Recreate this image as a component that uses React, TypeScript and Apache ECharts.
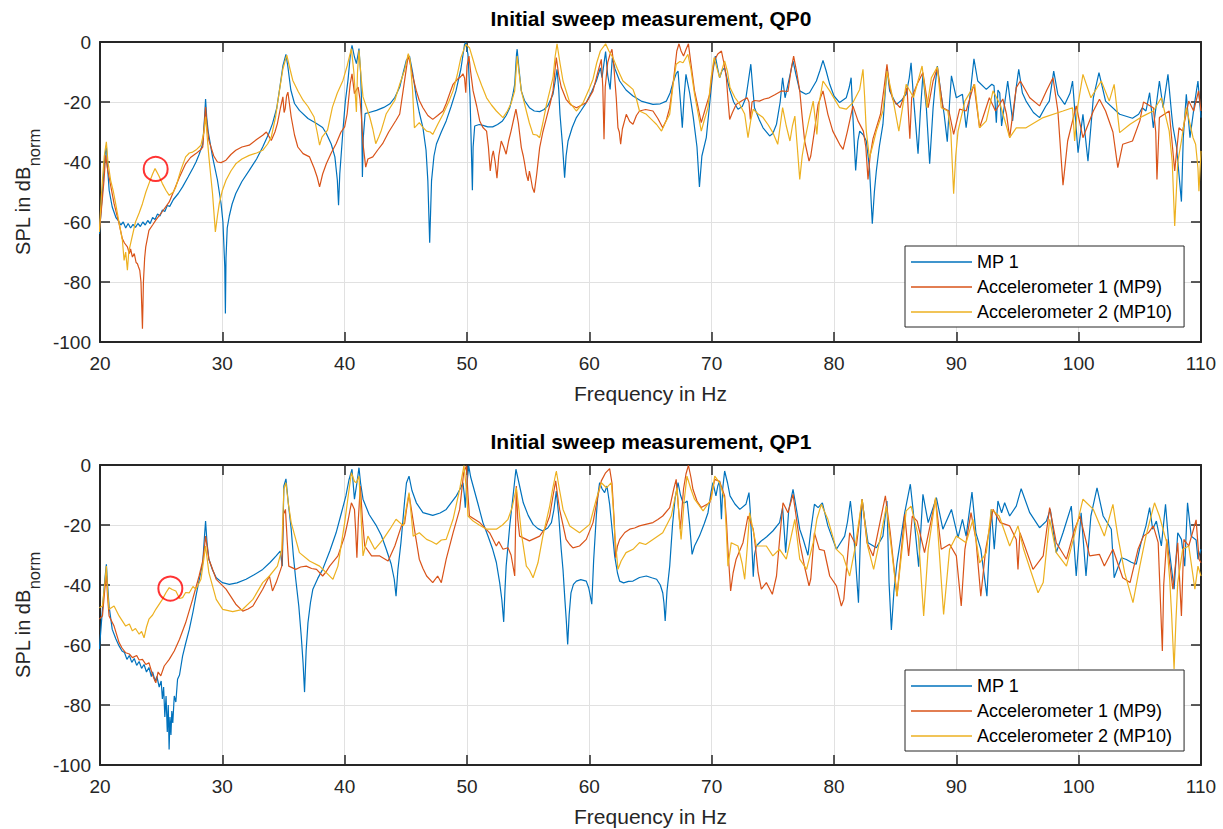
import React, { useEffect, useRef } from "react";
import * as echarts from "echarts";

// ---------- data (frequency in Hz, SPL in dB_norm) ----------
const seriesNames = ["MP 1", "Accelerometer 1 (MP9)", "Accelerometer 2 (MP10)"];
const seriesColors = ["#0072BD", "#D95319", "#EDB120"];
const titles = ["Initial sweep measurement, QP0", "Initial sweep measurement, QP1"];
const xMin = 20, xMax = 110, xStep = 10;
const yMin = -100, yMax = 0, yStep = 20;

const qp0MP1: number[][] = [[19.95,-64],[20.2,-50],[20.4,-38],[20.52,-34.5],[20.62,-42],[20.75,-49.5],[21.0,-55],[21.3,-58.5],[21.5,-59.5],[21.7,-61],[21.9,-60],[22.1,-62],[22.3,-60.5],[22.5,-62],[22.7,-60.8],[22.9,-61.8],[23.1,-60.5],[23.3,-61.5],[23.5,-60],[23.7,-61],[23.9,-59.5],[24.1,-60.5],[24.3,-58.5],[24.5,-59.2],[24.7,-57.3],[24.9,-58],[25.1,-56],[25.3,-56.5],[25.5,-54.5],[25.7,-54.8],[26.0,-52.5],[26.4,-50.5],[26.75,-48.3],[27.2,-45],[27.6,-42],[27.85,-40],[28.1,-37.5],[28.4,-34],[28.55,-25],[28.63,-19],[28.72,-25],[28.85,-30],[29.2,-38.3],[29.6,-46],[29.9,-54],[30.05,-60],[30.2,-75],[30.25,-90.5],[30.3,-72],[30.4,-62],[30.57,-58],[30.8,-54],[31.1,-50.5],[31.6,-46.5],[32.2,-42.8],[32.8,-39],[33.3,-35],[33.8,-30.5],[34.1,-27.2],[34.45,-22],[34.67,-16],[34.95,-8],[35.2,-4.1],[35.35,-8],[35.6,-16],[35.9,-20.5],[36.3,-22.8],[37.0,-25.5],[37.7,-27.2],[38.2,-28.5],[38.5,-30.5],[38.9,-34],[39.2,-38.3],[39.4,-46],[39.5,-54.4],[39.6,-44],[39.86,-29.4],[40.05,-20],[40.27,-12.8],[40.45,-5],[40.6,-1.1],[40.8,-5],[40.96,-7.2],[41.1,-4],[41.17,-2.2],[41.3,-10],[41.37,-18.3],[41.45,-45],[41.52,-32],[41.67,-23.9],[42.0,-23.5],[42.6,-22.8],[43.2,-21.8],[43.7,-20.6],[44.1,-18.5],[44.5,-15],[44.8,-10],[45.05,-6],[45.3,-4.7],[45.55,-10],[45.86,-18.6],[46.1,-23.5],[46.4,-28.6],[46.65,-36],[46.8,-46.3],[46.95,-66.9],[47.1,-46.3],[47.3,-38],[47.5,-34],[47.9,-30],[48.3,-26.3],[48.7,-21.5],[49.1,-16.3],[49.5,-9],[49.8,-0.8],[49.9,-0.2],[50.08,-4.1],[50.25,-18.6],[50.44,-49.4],[50.5,-35],[50.63,-28],[51.0,-27.5],[51.3,-27.8],[51.7,-28.3],[52.1,-28.3],[52.5,-27.5],[52.9,-26.3],[53.2,-24.5],[53.5,-21.9],[53.75,-17.5],[53.9,-14.1],[54.05,-4],[54.1,-2.4],[54.25,-9],[54.44,-16.3],[54.7,-19.5],[55.1,-21.9],[55.5,-23],[55.94,-23.2],[56.3,-22.5],[56.6,-21.3],[57.03,-17.4],[57.25,-12],[57.36,-9.1],[57.5,-16],[57.6,-24.1],[57.8,-34],[57.98,-45.2],[58.1,-38],[58.26,-33],[58.6,-28.5],[58.94,-25.2],[59.3,-23],[59.75,-20.2],[60.2,-16.5],[60.57,-13],[60.8,-10],[60.9,-8.6],[61.04,-11.9],[61.2,-7],[61.33,-3.2],[61.5,-11],[61.7,-15.8],[61.88,-5.2],[62.1,-9],[62.48,-13],[63.0,-16],[63.57,-18],[64.3,-19.8],[65.2,-20.8],[65.8,-20.6],[66.3,-19.7],[66.6,-17],[66.8,-14.1],[67.1,-10.5],[67.25,-9.7],[67.45,-20],[67.6,-28.6],[67.75,-18],[67.9,-10.8],[68.2,-17],[68.5,-25.2],[68.8,-35],[69.0,-48.3],[69.2,-38],[69.56,-31.9],[69.85,-20],[70.1,-9.7],[70.3,-4.7],[70.5,-9],[70.65,-11.9],[70.85,-9.5],[71.06,-8.6],[71.3,-13],[71.5,-16.3],[71.8,-20],[72.15,-22.4],[72.5,-21.5],[72.8,-18.6],[73.0,-13],[73.2,-7.4],[73.35,-15],[73.5,-21.9],[73.9,-26],[74.2,-28.6],[74.74,-31.3],[75.0,-30.5],[75.3,-27.4],[75.6,-20],[75.8,-11.9],[76.0,-18.6],[76.3,-13],[76.65,-6.3],[76.9,-11],[77.2,-16.3],[77.7,-17.4],[78.0,-16.9],[78.56,-13],[78.85,-9.5],[79.1,-6.1],[79.35,-9.5],[79.65,-14.1],[80.0,-18],[80.46,-20.2],[81.0,-18.6],[81.25,-15],[81.4,-11.9],[81.55,-25.2],[81.77,-42.8],[81.95,-33],[82.1,-29.7],[82.4,-31],[82.64,-33],[82.9,-42],[83.13,-60.6],[83.3,-50],[83.46,-43],[83.7,-35],[84.0,-27.4],[84.2,-16],[84.33,-8.6],[84.55,-16.3],[85.1,-20.8],[85.5,-19.5],[85.9,-17.4],[86.15,-12],[86.3,-6.9],[86.5,-18.6],[86.87,-37.2],[87.05,-24],[87.27,-10.8],[87.55,-22],[87.82,-40.6],[88.1,-22],[88.25,-15.2],[88.45,-8],[88.75,-17.4],[89.0,-24],[89.26,-33.2],[89.45,-20],[89.6,-11.3],[90.0,-18.6],[90.5,-17.4],[90.8,-28.6],[91.1,-18.6],[91.44,-5.6],[91.75,-13],[92.45,-15.8],[92.9,-14.1],[93.08,-14.6],[93.27,-26.9],[93.4,-16],[93.55,-17],[93.7,-28],[94.2,-13],[94.6,-26.3],[94.9,-15],[95.1,-9.1],[95.4,-17],[95.7,-19.7],[96.3,-23.5],[96.8,-25.2],[97.3,-21.5],[97.6,-19.7],[97.96,-9.7],[98.3,-17.5],[98.86,-20.8],[99.3,-17],[99.5,-13],[99.75,-26.3],[99.95,-36.9],[100.35,-24.1],[100.76,-39.7],[101.2,-18.6],[101.66,-10.2],[102.2,-19.7],[103.35,-24.1],[104.4,-25.4],[104.9,-24.1],[105.2,-21.9],[105.5,-23],[105.8,-16.9],[106.1,-28.6],[106.6,-13],[106.9,-21.9],[107.3,-10.8],[107.6,-24.1],[107.7,-28],[108.0,-35],[108.4,-53.2],[108.55,-32],[108.8,-17.4],[109.1,-31.9],[109.5,-19.7],[109.75,-13],[110.0,-25.2]];

const qp0Acc1: number[][] = [[19.95,-63],[20.2,-52],[20.33,-46],[20.46,-37.8],[20.6,-42],[20.74,-45],[21.15,-53.9],[21.56,-60.6],[21.83,-65.6],[22.0,-67],[22.24,-68.3],[22.4,-70.5],[22.5,-69],[22.65,-71.7],[22.8,-70.5],[22.95,-73.5],[23.06,-73.9],[23.15,-75],[23.25,-76.1],[23.35,-80],[23.47,-95.6],[23.55,-80],[23.65,-72],[23.74,-68.3],[24.0,-62.8],[24.3,-61],[24.56,-59.4],[25.1,-56.5],[25.66,-53.3],[26.1,-49],[26.5,-45],[27.0,-40.6],[27.4,-38.5],[27.84,-37.2],[28.2,-36],[28.4,-35],[28.52,-28],[28.63,-21.7],[28.75,-28],[28.9,-32.8],[29.3,-38],[29.6,-40],[29.9,-40.2],[30.3,-39.4],[30.7,-37.5],[31.1,-36.1],[31.6,-35],[32.2,-34.4],[32.8,-32.5],[33.3,-31.1],[33.6,-30],[34.0,-32.8],[34.3,-30],[34.5,-27.2],[34.75,-22],[34.95,-18.3],[35.05,-23.5],[35.14,-22.2],[35.25,-18],[35.36,-16.7],[35.5,-21],[35.63,-25],[35.9,-31],[36.17,-35],[36.6,-37.2],[37.13,-38.3],[37.5,-42],[37.75,-45],[37.95,-48.3],[38.2,-44],[38.5,-40.6],[38.9,-37],[39.3,-33.9],[39.7,-30],[40.0,-28.3],[40.2,-24],[40.45,-14],[40.6,-10.6],[40.8,-17.2],[40.95,-16],[41.1,-15],[41.25,-19],[41.37,-25],[41.5,-33.9],[41.72,-41.7],[41.9,-39],[42.3,-38.3],[42.7,-36],[43.1,-33.9],[43.6,-30],[44.2,-26.1],[44.5,-24],[44.9,-12.8],[45.2,-4.4],[45.4,-8],[45.6,-12],[45.86,-16.3],[46.1,-19.5],[46.4,-21.9],[46.8,-24.5],[47.2,-25.8],[47.6,-24.5],[48.04,-23],[48.3,-20.5],[48.6,-17],[48.86,-14.1],[49.2,-12.5],[49.5,-11.5],[49.67,-10.6],[49.8,-12],[49.9,-16.9],[50.0,-8],[50.16,-4.7],[50.3,-10],[50.5,-16.3],[50.8,-21.5],[51.04,-26.3],[51.3,-28.5],[51.6,-29.7],[51.75,-35],[51.9,-43],[52.05,-38],[52.15,-36.3],[52.3,-40],[52.45,-45.4],[52.6,-38],[52.8,-33],[53.0,-35],[53.2,-37.4],[53.4,-33],[53.6,-29.7],[53.8,-26],[54.0,-22.4],[54.2,-27],[54.44,-35.2],[54.6,-38],[54.7,-40.2],[54.85,-44],[55.0,-46.3],[55.1,-43],[55.2,-45],[55.35,-48.5],[55.5,-50.2],[55.7,-44],[55.94,-35.2],[56.2,-30],[56.5,-25.2],[56.8,-20.5],[57.03,-16.3],[57.2,-9],[57.3,-5.2],[57.5,-11],[57.7,-15],[58.1,-19.1],[58.5,-21],[58.94,-21.9],[59.4,-21],[59.75,-20.2],[60.0,-18.5],[60.3,-16.3],[60.7,-10],[60.98,-5.8],[61.1,-15],[61.2,-32.4],[61.3,-15],[61.5,-6.9],[61.7,-4],[61.85,-2.4],[62.0,-8],[62.2,-18.6],[62.34,-28.6],[62.45,-30],[62.56,-34.1],[62.7,-29],[63.02,-24.1],[63.3,-26.5],[63.57,-27.4],[63.85,-24.5],[64.1,-23],[64.6,-22.5],[65.2,-23],[65.6,-25.5],[66.0,-28.6],[66.3,-26],[66.57,-21.9],[66.9,-12],[67.15,-3],[67.33,-0.6],[67.5,-3],[67.7,-4.7],[67.9,-2.5],[68.1,-0.6],[68.3,-7],[68.6,-16.3],[68.9,-22],[69.15,-26.9],[69.5,-22],[69.84,-17.4],[70.0,-12],[70.2,-6.3],[70.5,-4],[70.8,-3],[71.0,-7],[71.2,-11.9],[71.35,-20],[71.47,-25.8],[71.7,-23.5],[72.0,-20.8],[72.5,-19.5],[72.9,-18.6],[73.05,-20],[73.16,-25.8],[73.3,-20],[73.5,-19.5],[73.9,-19.7],[74.3,-19],[74.7,-18.6],[75.2,-17.5],[75.7,-16.3],[76.24,-16.5],[76.5,-9],[76.7,-4.7],[76.95,-10],[77.2,-16.3],[77.4,-25],[77.6,-33],[77.96,-39.7],[78.1,-38],[78.4,-29.7],[78.7,-20.8],[79.1,-16.3],[79.5,-24.1],[79.9,-29.7],[80.46,-34.1],[80.74,-35.8],[81.1,-29.7],[81.55,-21.3],[81.96,-26.3],[82.4,-29.7],[82.6,-35],[82.78,-45.8],[82.95,-38],[83.19,-32.2],[83.8,-24.1],[84.1,-15],[84.33,-7.4],[84.55,-15],[84.8,-19.1],[85.4,-21.9],[85.97,-15.2],[86.1,-25],[86.2,-32.2],[86.35,-18.6],[86.8,-14],[87.27,-10.2],[87.7,-21.9],[88.1,-13],[88.45,-8.6],[88.9,-21.9],[89.4,-23],[89.78,-30.8],[90.27,-22.4],[90.8,-23],[91.44,-14.1],[91.9,-28.6],[92.7,-18.6],[93.2,-23],[93.8,-19],[94.1,-24],[94.36,-31.9],[94.9,-15.2],[95.23,-13],[96.0,-18.6],[96.8,-21.3],[97.4,-16],[97.9,-11.9],[98.3,-23],[98.72,-47.7],[99.1,-33],[99.8,-21.3],[100.35,-31.9],[101.2,-23],[101.7,-19.1],[102.2,-23],[102.8,-30],[103.2,-41.9],[103.6,-34.1],[104.4,-33],[105.0,-26.3],[105.3,-20],[106.1,-21.9],[106.3,-30],[106.4,-45.8],[106.6,-25.2],[107.4,-23],[107.85,-43],[108.2,-28.6],[108.5,-29.7],[109.0,-19.7],[109.4,-23],[109.8,-16.3],[110.0,-23]];

const qp0Acc2: number[][] = [[19.95,-63.3],[20.1,-52],[20.2,-46.1],[20.35,-38],[20.52,-33.3],[20.65,-40],[20.87,-46.1],[21.1,-50],[21.28,-53.9],[21.55,-60],[21.83,-66.1],[21.97,-72.8],[22.1,-70],[22.24,-76.1],[22.35,-70],[22.5,-67.2],[22.9,-60],[23.2,-57],[23.47,-53.9],[23.75,-50],[24.0,-47.2],[24.3,-44],[24.5,-42.2],[24.8,-44.5],[25.1,-47.2],[25.4,-49.5],[25.66,-51.1],[26.0,-50],[26.2,-48.3],[26.6,-42.8],[27.0,-38.3],[27.3,-37],[27.57,-36.7],[27.9,-35.8],[28.25,-34.4],[28.5,-30],[28.63,-25],[28.75,-31],[28.9,-38.3],[29.2,-50.6],[29.43,-63.3],[29.6,-58],[29.75,-53.9],[30.0,-49.5],[30.3,-46.1],[30.7,-43],[31.1,-40.6],[31.6,-39],[32.2,-37.8],[32.8,-37],[33.3,-36.1],[33.7,-34],[34.0,-31.7],[34.35,-25],[34.67,-16.1],[34.95,-9],[35.27,-4.4],[35.5,-8.5],[35.76,-12.8],[36.2,-16.5],[36.6,-19.4],[37.0,-21.5],[37.5,-25],[37.75,-30],[37.95,-34.4],[38.15,-31.7],[38.6,-29.4],[39.0,-21.7],[39.4,-17],[39.86,-12.8],[40.2,-8],[40.55,-2.2],[40.75,-10],[40.96,-23.3],[41.05,-10],[41.17,-2.8],[41.35,-12],[41.5,-18.3],[42.05,-25],[42.3,-29],[42.54,-33.9],[42.8,-31.5],[43.0,-29.4],[43.4,-23.9],[44.1,-19.4],[44.5,-14.1],[44.9,-9.4],[45.2,-3.9],[45.35,-6],[45.55,-16],[45.7,-28.6],[46.1,-26.9],[46.4,-28.5],[46.7,-29.7],[47.0,-30],[47.2,-30.8],[47.6,-27.5],[48.04,-24.1],[48.5,-20],[48.86,-16.3],[49.2,-11],[49.5,-5.2],[49.9,-0.8],[50.2,-1.9],[50.5,-6],[50.76,-9.7],[51.2,-14.5],[51.6,-18.6],[52.0,-21],[52.4,-23],[52.94,-25.2],[53.3,-23],[53.6,-20.5],[53.9,-16.3],[54.1,-4.7],[54.25,-10],[54.44,-16.3],[54.85,-23],[55.1,-27],[55.4,-30.8],[55.7,-31],[55.94,-31.9],[56.2,-27],[56.5,-20.8],[57.03,-11.9],[57.2,-5],[57.36,-0.6],[57.6,-7],[57.85,-13],[58.4,-20.2],[58.94,-23],[59.5,-20.2],[60.0,-15.5],[60.3,-12.4],[60.6,-7],[60.9,-3],[61.33,-0.6],[61.6,-3],[61.93,-5.2],[62.3,-9],[62.75,-13],[63.2,-14.5],[63.57,-15.8],[63.85,-19],[64.1,-23],[64.66,-24.1],[65.2,-26.3],[65.5,-27.5],[65.9,-29.7],[66.2,-27],[66.57,-24.1],[66.85,-14],[67.1,-7.4],[67.4,-6.5],[67.66,-6.9],[68.06,-4.1],[68.3,-9],[68.6,-17.4],[68.9,-24],[69.15,-29.7],[69.4,-26],[69.7,-21.9],[69.95,-12],[70.2,-5.2],[70.45,-9],[70.65,-11.9],[71.06,-6.3],[71.3,-10],[71.5,-15.2],[71.9,-18.5],[72.3,-20.8],[72.7,-24],[72.97,-31.9],[73.2,-26],[73.4,-22.4],[73.8,-24],[74.2,-25.2],[74.6,-27.5],[75.0,-30.2],[75.4,-34.1],[75.6,-28],[75.8,-21.9],[76.1,-28],[76.4,-33],[76.6,-28],[76.8,-24.7],[77.0,-35],[77.2,-45.8],[77.4,-38],[77.6,-33],[77.95,-26],[78.3,-19.7],[78.6,-30.8],[78.8,-20],[79.1,-13],[79.65,-16.3],[80.46,-21.9],[81.0,-22.4],[81.55,-20.2],[82.1,-15.8],[82.37,-9.1],[82.5,-18],[82.64,-29.7],[82.9,-38.6],[83.2,-34],[83.46,-29.7],[84.0,-23],[84.33,-9.7],[84.8,-18.6],[85.3,-29.7],[85.9,-14.1],[86.5,-18.5],[87.2,-8],[87.6,-21.9],[87.96,-11.9],[88.45,-8.3],[88.77,-21.9],[89.3,-23],[89.55,-30],[89.78,-50.6],[89.95,-38],[90.14,-29.7],[90.7,-19.7],[91.5,-14.1],[91.9,-28.6],[92.45,-26.3],[93.0,-16.3],[93.6,-21],[94.36,-31.9],[94.9,-28.6],[95.7,-28.6],[97.1,-25.2],[98.72,-23],[99.5,-21.9],[99.67,-33],[99.9,-22],[100.35,-10.8],[101.0,-18.6],[101.85,-13],[102.5,-19.7],[102.9,-14.1],[103.35,-30.2],[104.2,-27.4],[105.26,-24.7],[106.1,-23],[106.76,-18.6],[107.4,-29.7],[107.65,-40],[107.85,-61.3],[108.1,-40],[108.4,-33],[108.8,-21.9],[109.35,-31.9],[109.56,-34.1],[109.75,-42],[109.83,-49.7],[110.0,-36.3]];

const qp1MP1: number[][] = [[19.95,-61.4],[20.2,-48.1],[20.4,-38],[20.52,-33.1],[20.62,-40],[20.74,-47],[21.0,-54.8],[21.3,-58],[21.56,-60.3],[21.8,-62],[22.0,-62.5],[22.2,-64.8],[22.4,-63.5],[22.6,-65.8],[22.8,-64.5],[23.0,-66.8],[23.2,-65.5],[23.4,-67.8],[23.6,-66.5],[23.8,-69],[24.0,-67.5],[24.2,-70.5],[24.3,-69],[24.5,-72],[24.65,-70.5],[24.84,-74],[25.0,-72],[25.1,-78],[25.2,-74],[25.3,-84],[25.4,-77],[25.5,-89],[25.58,-80],[25.65,-94.8],[25.72,-84],[25.8,-90],[25.87,-82],[25.95,-86],[26.07,-77],[26.2,-79],[26.34,-71.4],[26.5,-70],[26.75,-63.7],[27.0,-59.5],[27.3,-54.8],[27.6,-49],[27.84,-43.7],[28.1,-38.5],[28.4,-32.6],[28.52,-25],[28.63,-18.7],[28.75,-26],[28.9,-31.4],[29.2,-35],[29.5,-37.6],[30.0,-39.2],[30.57,-39.8],[31.2,-39.3],[31.94,-38.1],[32.6,-36.6],[33.3,-34.8],[33.9,-32.5],[34.4,-30.3],[34.73,-28.7],[34.9,-33.7],[35.03,-7],[35.2,-4.6],[35.4,-13],[35.63,-21.4],[35.8,-30],[36.0,-38.1],[36.25,-47],[36.45,-57],[36.6,-66],[36.72,-75.7],[36.85,-62],[37.0,-52.6],[37.2,-46],[37.4,-41.4],[37.8,-37.8],[38.2,-34.8],[38.8,-28.5],[39.3,-22.6],[39.7,-16.5],[40.1,-10.3],[40.35,-5],[40.6,-1.4],[40.8,-11.4],[41.0,-6],[41.17,-0.9],[41.3,-6],[41.5,-11.4],[42.0,-16.5],[42.6,-20.3],[43.0,-23.5],[43.4,-28.1],[43.8,-33],[44.05,-38],[44.2,-43.7],[44.35,-35],[44.6,-25.9],[44.9,-12],[45.05,-6],[45.26,-3.7],[45.5,-8.5],[45.86,-12.6],[46.4,-15.9],[47.2,-16.8],[47.8,-16],[48.3,-14.8],[49.13,-10.3],[49.5,-7.5],[49.67,-5.9],[49.78,-10],[49.86,-14.2],[49.95,-8],[50.14,-0.3],[50.3,-4],[50.5,-7],[50.9,-13],[51.3,-19.2],[51.7,-23.5],[52.1,-28.1],[52.4,-32.5],[52.67,-39.2],[52.85,-45],[53.0,-52.3],[53.1,-42],[53.2,-33.7],[53.5,-20],[53.8,-9],[54.0,-1.4],[54.3,-7],[54.6,-12.6],[55.0,-16.8],[55.4,-19.8],[55.8,-21.2],[56.2,-22],[56.6,-21],[56.9,-19.2],[57.1,-15],[57.3,-8.7],[57.5,-17],[57.7,-28.1],[57.85,-35],[58.0,-44.8],[58.12,-52],[58.23,-59.8],[58.35,-50],[58.5,-42.6],[58.7,-39.8],[58.94,-38.7],[59.3,-38.2],[59.75,-38.7],[59.95,-41],[60.05,-43],[60.2,-46.4],[60.35,-32],[60.57,-17],[60.7,-10],[60.84,-5.9],[61.05,-8],[61.25,-9.2],[61.44,-7],[61.55,-10],[61.66,-13.1],[61.85,-21],[62.07,-30.3],[62.3,-36],[62.48,-38.7],[62.8,-39.3],[63.2,-38.8],[63.57,-38.7],[64.1,-37.5],[64.66,-37],[65.1,-37.6],[65.5,-38.1],[65.8,-40],[66.0,-42.6],[66.1,-46],[66.2,-52],[66.35,-42],[66.57,-33.7],[66.8,-20],[67.0,-11.4],[67.25,-5.9],[67.45,-10],[67.66,-12.6],[67.85,-12.5],[68.0,-12],[68.2,-20],[68.4,-29.8],[68.6,-27],[69.0,-23.7],[69.4,-19.5],[69.7,-15.9],[69.95,-9],[70.1,-5.9],[70.35,-10.3],[70.5,-7],[70.65,-5.3],[70.8,-18.1],[70.9,-8],[71.06,-2],[71.3,-6],[71.5,-10.3],[71.9,-13],[72.3,-14.8],[72.8,-13.1],[73.05,-9.2],[73.15,-15],[73.24,-22.6],[73.4,-37.2],[73.5,-30],[73.65,-27],[74.0,-25.5],[74.5,-23.9],[75.0,-22],[75.55,-19.2],[75.8,-14.2],[75.9,-20],[76.05,-29.2],[76.3,-15],[76.65,-8.1],[76.9,-14],[77.2,-21.4],[77.5,-25],[77.87,-30.1],[78.1,-22],[78.4,-13.1],[78.7,-14.2],[79.05,-12.6],[79.5,-20.3],[80.2,-28.1],[80.87,-23.7],[81.1,-19],[81.34,-12],[81.55,-20],[81.7,-28.1],[82.0,-45.9],[82.15,-25],[82.3,-11.4],[82.5,-18],[82.78,-25.9],[83.46,-27.6],[84.0,-23.7],[84.33,-12],[84.5,-39.2],[84.69,-55],[84.9,-42],[85.15,-32.6],[85.78,-15.9],[86.24,-6.4],[86.6,-20.3],[86.92,-33.9],[87.27,-9.8],[87.7,-19.2],[88.37,-10.9],[88.9,-21.4],[89.6,-14.8],[90.14,-24.2],[90.5,-18.1],[90.8,-23.7],[91.28,-9],[91.6,-22.6],[92.0,-28.1],[92.5,-43.7],[92.86,-14.8],[93.1,-28.1],[93.4,-12],[93.7,-15.9],[93.95,-12.6],[94.36,-17],[94.9,-13.7],[95.3,-7.9],[96.0,-15.9],[96.8,-20.9],[97.36,-18.7],[97.68,-14.8],[98.17,-29.2],[98.72,-22.6],[99.4,-13.7],[99.8,-37],[100.2,-15.9],[100.6,-37],[101.0,-17],[101.5,-7.6],[102.0,-17],[102.67,-21.4],[102.9,-37.6],[103.5,-30.9],[103.9,-31.5],[104.3,-32.4],[104.7,-33.1],[105.1,-25.9],[105.5,-20.3],[105.8,-14.2],[106.05,-21.4],[106.35,-18.7],[106.76,-27],[107.1,-13.1],[107.4,-28.1],[107.8,-41.4],[108.1,-22.6],[108.4,-24.8],[108.67,-33.7],[108.9,-12.6],[109.2,-23.7],[109.6,-25],[109.75,-31.4],[110.0,-28.1]];

const qp1Acc1: number[][] = [[19.95,-51.4],[20.2,-50.3],[20.38,-42],[20.52,-36.4],[20.62,-44],[20.74,-50.3],[21.15,-53.7],[21.56,-59.2],[21.8,-61],[22.1,-62.6],[22.4,-63],[22.65,-64.2],[23.0,-63.5],[23.2,-65],[23.47,-64.8],[23.75,-66.5],[24.0,-65.9],[24.3,-70],[24.56,-72.6],[24.75,-69],[24.97,-70.3],[25.25,-67],[25.66,-64.8],[26.07,-62],[26.5,-58.1],[27.0,-52.6],[27.57,-44.8],[28.1,-37],[28.4,-32],[28.55,-27],[28.63,-23.7],[28.75,-27],[28.9,-31.4],[29.5,-38.1],[30.3,-41.4],[31.1,-46.4],[31.67,-48.7],[32.1,-48],[32.5,-47],[33.3,-41.4],[33.85,-37],[34.1,-42],[34.4,-39.2],[34.86,-33.7],[35.0,-16.4],[35.16,-14.8],[35.3,-25],[35.43,-33.7],[36.0,-34.8],[36.4,-34],[36.86,-33.7],[37.3,-34.5],[37.7,-34.8],[38.2,-37],[38.5,-35.5],[38.77,-33.7],[39.45,-30.3],[40.0,-23.7],[40.3,-18],[40.55,-12.6],[40.8,-14.8],[40.9,-22],[41.0,-30.9],[41.12,-18],[41.28,-7],[41.45,-18],[41.64,-27],[42.2,-30.3],[42.87,-30.3],[43.55,-32],[44.1,-27],[44.64,-20.3],[44.9,-19.5],[45.05,-15],[45.26,-9.8],[45.5,-16],[45.7,-21.4],[46.1,-31.4],[46.4,-34.5],[46.7,-37],[47.2,-39.2],[47.6,-37],[47.9,-39.2],[48.3,-31.4],[48.86,-22.6],[49.4,-14.8],[49.73,-2.6],[49.95,-0.3],[50.08,-10],[50.2,-17],[51.04,-19.2],[51.85,-22.6],[52.4,-27],[52.6,-25.5],[52.94,-28.1],[53.35,-27.6],[53.6,-30],[53.9,-37],[54.03,-7],[54.15,-18],[54.3,-23.7],[55.1,-25.3],[55.94,-23.7],[56.4,-21],[56.76,-17],[57.0,-11],[57.25,-5.3],[57.4,-10],[57.57,-14.8],[58.1,-24.8],[58.4,-26.5],[58.66,-27.6],[59.2,-27],[59.75,-24.8],[60.3,-19.2],[60.7,-10.3],[60.98,-5.3],[61.33,-2.6],[61.66,-1.2],[61.85,-6],[61.93,-11.4],[62.05,-20],[62.15,-30.9],[62.3,-27],[62.48,-24.8],[62.9,-22.5],[63.3,-21.4],[63.7,-21],[64.1,-20.3],[64.6,-19.8],[65.2,-19.2],[65.6,-18.2],[66.0,-17],[66.57,-14.2],[66.9,-8],[67.1,-4.8],[67.3,-15],[67.44,-21.4],[67.7,-8],[67.9,-3],[68.1,-0.1],[68.3,-4],[68.47,-8.1],[68.8,-12],[69.15,-14.2],[69.84,-12.6],[70.25,-4.8],[70.65,-5.5],[71.06,-10.3],[71.2,-18],[71.33,-28.1],[71.55,-42],[71.75,-36],[72.0,-31.4],[72.56,-25.9],[72.97,-17],[73.4,-21.4],[73.6,-28],[73.8,-35.9],[74.06,-41.4],[74.47,-39.2],[74.7,-41],[74.96,-43.1],[75.3,-37],[75.55,-25],[75.83,-12.6],[76.24,-15.9],[76.65,-9.8],[76.9,-17],[77.2,-25.9],[77.6,-34],[77.96,-40.3],[78.1,-38],[78.4,-22.6],[78.8,-28.1],[79.2,-28.5],[79.65,-37],[80.2,-40.3],[80.6,-47],[80.8,-44.8],[81.28,-22.6],[81.83,-27],[82.3,-11.4],[82.7,-25.9],[83.2,-30.3],[84.2,-10.3],[84.6,-22.6],[85.15,-43.7],[85.78,-16.4],[86.1,-30.3],[86.4,-17],[86.8,-18.7],[87.4,-29.2],[88.3,-11.4],[88.77,-28.1],[89.45,-26.4],[90.0,-30.3],[90.4,-47],[90.7,-28.1],[91.2,-15.9],[91.6,-24.8],[92.0,-43.7],[92.4,-28.1],[93.0,-14.8],[93.6,-19.2],[94.36,-20.3],[94.9,-24.8],[95.04,-34.8],[95.2,-22.6],[96.27,-34.8],[97.1,-30.3],[97.63,-14.2],[98.17,-25.9],[99.0,-31.4],[99.67,-21.4],[100.1,-17],[100.9,-30.3],[101.7,-29.8],[102.1,-33.7],[102.8,-28.1],[103.6,-37.6],[104.2,-39.2],[104.85,-28.1],[105.3,-23.7],[105.7,-22.6],[106.1,-20.3],[106.5,-25.9],[106.84,-62],[106.95,-40],[107.2,-24.8],[107.7,-41.4],[108.1,-25.9],[108.4,-50.3],[108.6,-24.8],[109.0,-27],[109.6,-18.3],[109.84,-31.4],[110.0,-32.6]];

const qp1Acc2: number[][] = [[19.95,-47.6],[20.2,-47],[20.38,-40],[20.52,-33.7],[20.62,-42],[20.74,-48.1],[21.15,-47],[21.56,-50.3],[22.1,-53.7],[22.4,-53],[22.65,-55.3],[22.9,-54.5],[23.2,-56.4],[23.4,-55.5],[23.6,-57.6],[23.8,-54],[24.0,-51.4],[24.3,-50],[24.56,-48.1],[25.1,-44.8],[25.4,-42.5],[25.66,-40.9],[25.9,-41.5],[26.2,-42],[26.5,-44.5],[26.75,-44.2],[27.0,-42.5],[27.3,-42.6],[27.6,-40.5],[27.84,-41.4],[28.25,-38.1],[28.5,-31],[28.63,-27],[28.75,-31],[28.9,-35.9],[29.5,-44.8],[30.03,-48.1],[30.85,-48.9],[31.67,-48.1],[32.5,-44.8],[33.3,-39.2],[33.85,-37],[34.5,-33.7],[34.86,-28.1],[35.03,-8.1],[35.2,-5.9],[35.4,-13],[35.63,-19.2],[36.3,-29.2],[37.13,-32],[37.95,-33.7],[38.5,-35.9],[39.04,-38.1],[39.45,-33.7],[40.0,-19.2],[40.3,-10],[40.55,-2.6],[40.8,-5.5],[40.96,-5.9],[41.17,-3.7],[41.35,-18],[41.5,-30.3],[41.9,-23.7],[42.46,-28.1],[43.14,-24.8],[43.7,-21.4],[44.2,-18.1],[44.8,-20.3],[45.05,-14],[45.26,-9.2],[45.45,-17],[45.6,-23.7],[46.1,-22.6],[46.7,-24.8],[47.1,-25.5],[47.5,-26.4],[47.9,-25],[48.3,-24.8],[48.86,-18.1],[49.4,-8.1],[49.75,-0.2],[49.95,-8],[50.08,-17],[50.5,-18.7],[51.0,-20],[51.6,-21.4],[52.4,-21.4],[52.9,-20],[53.35,-18.1],[53.7,-14],[54.03,-7.6],[54.25,-15],[54.44,-22.6],[54.85,-33.7],[55.1,-35],[55.4,-37.6],[55.8,-32.6],[56.2,-23.7],[56.76,-13.7],[57.0,-8],[57.3,-2],[57.55,-8],[57.85,-14.8],[58.4,-20.3],[59.2,-22.6],[60.03,-19.8],[60.57,-11.4],[60.98,-5.9],[61.4,-7.6],[61.8,-5.9],[61.95,-14],[62.07,-22.6],[62.34,-34.8],[62.6,-32],[63.0,-29.2],[63.57,-28.1],[64.1,-25.9],[64.6,-26.5],[65.2,-24.8],[66.0,-22.6],[66.7,-17],[67.17,-7.6],[67.35,-18],[67.5,-24.8],[67.75,-12],[67.98,-3.7],[68.3,-8],[68.6,-11.4],[69.3,-15.3],[69.97,-11.4],[70.25,-3.7],[70.65,-5.9],[71.06,-11.4],[71.2,-22],[71.33,-33.7],[71.6,-25.9],[72.15,-27],[72.5,-33],[72.7,-38.1],[72.9,-28],[73.1,-15.9],[73.65,-27],[74.47,-27],[75.0,-30.3],[75.55,-28.1],[76.1,-31.4],[76.8,-18.1],[77.2,-31.4],[77.76,-34.8],[78.3,-25.9],[78.6,-18],[78.96,-13.1],[79.5,-18.1],[80.2,-28.1],[80.74,-30.3],[81.28,-37],[81.7,-28.1],[82.3,-11.4],[82.75,-27],[83.24,-34.8],[83.87,-22.6],[84.28,-13.7],[84.7,-28.1],[85.15,-43.7],[85.9,-15.3],[86.3,-13.7],[86.9,-23.7],[87.33,-50.3],[87.7,-28.1],[88.3,-10.9],[88.96,-49.8],[89.45,-28.1],[90.0,-23.7],[90.8,-25.9],[91.36,-18.1],[91.9,-32.6],[92.45,-29.2],[92.86,-14.8],[93.5,-17],[94.36,-27],[95.04,-20.3],[95.5,-28.1],[96.13,-35.9],[96.68,-42.6],[97.1,-39.2],[97.63,-18.1],[98.17,-29.2],[99.0,-33.7],[99.7,-22.6],[100.35,-11.4],[101.2,-14.8],[102.1,-23.7],[102.8,-13.1],[103.2,-23.7],[103.76,-35.9],[104.44,-45.9],[105.0,-33.7],[105.5,-23.7],[106.2,-12.6],[106.6,-17],[107.2,-25.9],[107.44,-38.1],[107.6,-50],[107.8,-68],[107.95,-52],[108.1,-39.2],[108.5,-28.1],[109.0,-27],[109.5,-41.4],[109.75,-33.7],[110.0,-37]];

const qp0Circle: number[][] = [[24.55, -42.3]];
const qp1Circle: number[][] = [[25.75, -41.2]];

// ---------- styling ----------
const FONT = '"Liberation Sans", Arial, Helvetica, sans-serif';
const AXIS = "#262626";
const GRIDC = "#e1e1e1";
const gridTops = [42, 465];

function buildOption() {
  const xAxes: any[] = [];
  const yAxes: any[] = [];
  const grids: any[] = [];
  const legends: any[] = [];
  const titleArr: any[] = [];
  const tick = { show: true, inside: true, length: 10, lineStyle: { color: AXIS, width: 1.5 } };
  const line = { show: true, onZero: false, lineStyle: { color: AXIS, width: 2 } };

  gridTops.forEach((top, g) => {
    grids.push({ left: 100, top, width: 1101, height: 300, containLabel: false });
    xAxes.push({
      type: "value", gridIndex: g, position: "bottom", min: xMin, max: xMax, interval: xStep,
      axisLine: line, axisTick: tick,
      axisLabel: { color: AXIS, fontSize: 19, fontFamily: FONT, margin: 12 },
      splitLine: { show: true, lineStyle: { color: GRIDC, width: 1 } },
      name: "Frequency in Hz", nameLocation: "middle", nameGap: 41,
      nameTextStyle: { color: AXIS, fontSize: 21, fontFamily: FONT },
    });
    xAxes.push({
      type: "value", gridIndex: g, position: "top", min: xMin, max: xMax, interval: xStep,
      axisLine: line, axisTick: tick, axisLabel: { show: false }, splitLine: { show: false },
    });
    yAxes.push({
      type: "value", gridIndex: g, position: "left", min: yMin, max: yMax, interval: yStep,
      axisLine: line, axisTick: tick,
      axisLabel: { color: AXIS, fontSize: 19, fontFamily: FONT, margin: 9 },
      splitLine: { show: true, lineStyle: { color: GRIDC, width: 1 } },
      name: "{m|SPL in dB}{s|norm}", nameLocation: "middle", nameRotate: 90, nameGap: 60,
      nameTextStyle: {
        color: AXIS, fontFamily: FONT,
        rich: {
          m: { fontSize: 20, lineHeight: 22, verticalAlign: "top", color: AXIS, fontFamily: FONT },
          s: { fontSize: 16.5, lineHeight: 16, padding: [12, 0, 0, 0], verticalAlign: "top", color: AXIS, fontFamily: FONT },
        },
      },
    });
    yAxes.push({
      type: "value", gridIndex: g, position: "right", min: yMin, max: yMax, interval: yStep,
      axisLine: line, axisTick: tick, axisLabel: { show: false }, splitLine: { show: false },
    });
    titleArr.push({
      text: titles[g], left: 651, top: g === 0 ? 8 : 431, textAlign: "center", padding: 0,
      textStyle: { fontSize: 21, fontWeight: "bold", color: "#000", fontFamily: FONT },
    });
    legends.push({
      data: seriesNames, orient: "vertical", left: 905, top: g === 0 ? 246 : 670,
      icon: "rect", itemWidth: 61, itemHeight: 1.5, itemGap: 7,
      padding: [7, 12, 6, 6], borderColor: AXIS, borderWidth: 1, borderRadius: 0,
      backgroundColor: "#ffffff",
      textStyle: { fontSize: 18, lineHeight: 18, color: "#000", fontFamily: FONT },
      selectedMode: false,
    });
  });

  const plotData = [
    [qp0MP1, qp0Acc1, qp0Acc2],
    [qp1MP1, qp1Acc1, qp1Acc2],
  ];
  const circles = [qp0Circle, qp1Circle];
  const series: any[] = [];
  plotData.forEach((set, g) => {
    set.forEach((d, i) => {
      series.push({
        type: "line", name: seriesNames[i], xAxisIndex: g * 2, yAxisIndex: g * 2,
        data: d, showSymbol: false, symbol: "none",
        lineStyle: { color: seriesColors[i], width: 1.2 },
        itemStyle: { color: seriesColors[i] },
        clip: true, z: 2 + i * 0.1,
      });
    });
    series.push({
      type: "scatter", name: "marker" + g, xAxisIndex: g * 2, yAxisIndex: g * 2,
      data: circles[g], symbol: "circle", symbolSize: 24,
      itemStyle: { color: "rgba(0,0,0,0)", borderColor: "#ff0000", borderWidth: 2 },
      z: 5, silent: true,
    });
  });

  return {
    animation: false,
    backgroundColor: "#ffffff",
    title: titleArr,
    legend: legends,
    grid: grids,
    xAxis: xAxes,
    yAxis: yAxes,
    series,
  };
}

export default function App() {
  const ref = useRef<HTMLDivElement>(null);
  useEffect(() => {
    if (!ref.current) return;
    const chart = echarts.init(ref.current, undefined, { renderer: "svg" });
    chart.setOption(buildOption() as any);
    return () => chart.dispose();
  }, []);
  return (
    <div
      ref={ref}
      style={{ position: "fixed", left: 0, top: 0, width: 1223, height: 829, background: "#fff" }}
    />
  );
}
